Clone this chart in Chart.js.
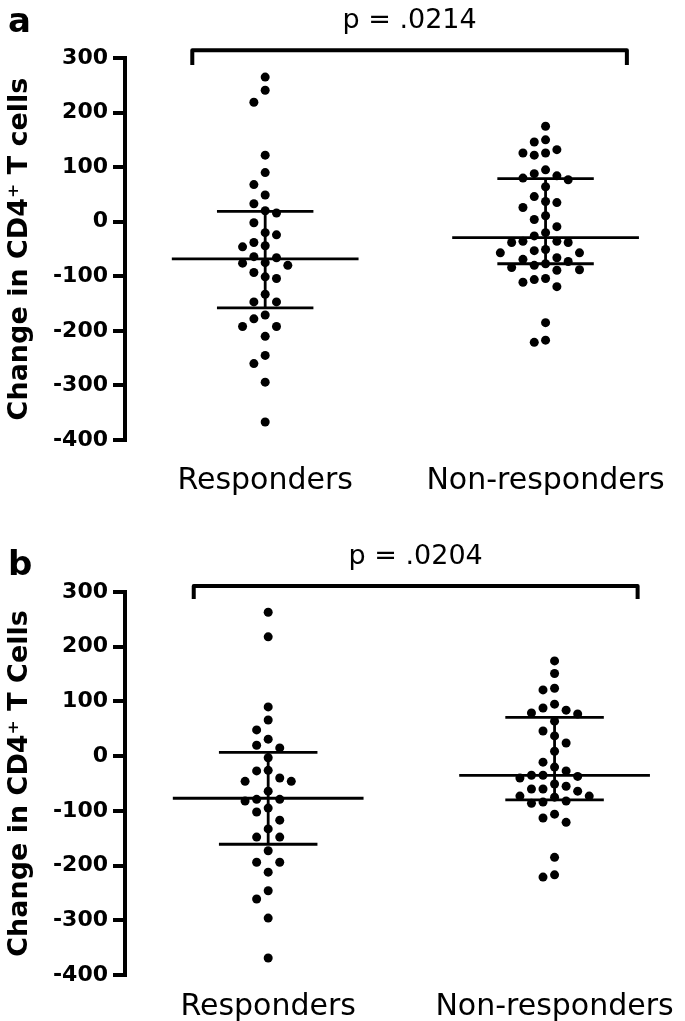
<!DOCTYPE html>
<html>
<head>
<meta charset="utf-8">
<script src="https://cdn.jsdelivr.net/npm/chart.js@4.4.1/dist/chart.umd.min.js"></script>
<style>
  body { margin: 0; background: #fff; }
  canvas { display: block; }
</style>
</head>
<body>
<canvas id="chartA" width="685" height="510"></canvas>
<canvas id="chartB" width="685" height="511"></canvas>
<script>
const groups = ["Responders", "Non-responders"]
const yTicks = [300, 200, 100, 0, -100, -200, -300, -400]

// panel a
const respondersA = [265, 241, 219, 122, 90, 68, 49, 33, 20, 16, -2, -20, -24, -38, -44, -46, -64, -66, -75, -80, -76, -93, -104, -101, -133, -147, -147, -171, -178, -192, -192, -210, -245, -260, -294, -367]
const nonRespondersA = [175, 150, 146, 132, 126, 126, 122, 95, 88, 84, 80, 77, 64, 46, 37, 35, 26, 11, 4, -9, -20, -26, -36, -36, -38, -38, -51, -53, -57, -57, -66, -69, -73, -77, -80, -84, -88, -89, -104, -106, -111, -119, -185, -217, -221]
const centerA = [-68, -29]
const upperA = [19, 79]
const lowerA = [-158, -77]

// panel b
const respondersB = [263, 218, 90, 66, 48, 31, 20, 15, -3, -26, -27, -40, -46, -46, -64, -79, -82, -79, -95, -102, -117, -133, -148, -148, -173, -194, -194, -212, -246, -261, -296, -369]
const nonRespondersB = [174, 151, 124, 121, 95, 88, 84, 79, 77, 64, 46, 37, 24, 9, -11, -20, -27, -35, -35, -37, -40, -51, -55, -60, -60, -64, -73, -73, -75, -82, -84, -86, -106, -113, -121, -185, -217, -221]
const centerB = [-77, -35]
const upperB = [7, 71]
const lowerB = [-161, -80]

Chart.defaults.font.family = "'DejaVu Sans', sans-serif"
Chart.defaults.color = "#000"

// layout of the dot columns
const PX_PER_UNIT = 382 / 700
const PX_PER_GROUP = 532 / 1.85
const DOT_GAP = 12.5 / PX_PER_UNIT
const COL_STEP = 11.6 / PX_PER_GROUP

// simple beeswarm: dots too close in value go to the next column (0, -1, +1, -2, +2 ...)
function swarm(values, groupIndex) {
  const order = values.map((v, i) => i).sort((a, b) => values[b] - values[a])
  const last = {}
  const pts = []
  order.forEach(i => {
    const v = values[i]
    for (let k = 0; k < 20; k++) {
      const c = k === 0 ? 0 : (k % 2 ? -Math.ceil(k / 2) : k / 2)
      if (last[c] === undefined || last[c] - v >= DOT_GAP) {
        last[c] = v
        pts.push({x: groupIndex + c * COL_STEP, y: v})
        break
      }
    }
  })
  return pts
}

function seg(x0, x1, y0, y1) {
  return {
    data: [{x: x0, y: y0}, {x: x1, y: y1}],
    showLine: true,
    borderColor: "#000",
    borderWidth: 2.8,
    pointRadius: 0,
    borderCapStyle: "butt"
  }
}

function statLines(center, upper, lower) {
  let out = []
  center.forEach((m, i) => {
    out.push(seg(i - 0.333, i + 0.333, m, m))
    out.push(seg(i - 0.172, i + 0.172, upper[i], upper[i]))
    out.push(seg(i - 0.172, i + 0.172, lower[i], lower[i]))
    out.push(seg(i, i, upper[i], lower[i]))
  })
  return out
}

const bracketPlugin = {
  id: "bracket",
  afterDraw(chart, args, o) {
    const ctx = chart.ctx
    const xs = chart.scales.x, ys = chart.scales.y
    const x0 = xs.getPixelForValue(o.from), x1 = xs.getPixelForValue(o.to)
    const top = ys.getPixelForValue(o.top), foot = ys.getPixelForValue(o.foot)
    ctx.save()
    ctx.strokeStyle = "#000"
    ctx.lineWidth = 4
    ctx.lineJoin = "round"
    ctx.beginPath()
    ctx.moveTo(x0, foot)
    ctx.lineTo(x0, top)
    ctx.lineTo(x1, top)
    ctx.lineTo(x1, foot)
    ctx.stroke()
    ctx.fillStyle = "#000"
    ctx.font = "27px 'DejaVu Sans'"
    ctx.textAlign = "center"
    ctx.textBaseline = "alphabetic"
    ctx.fillText(o.text, (x0 + x1) / 2, top - 22)
    ctx.font = "bold 34px 'DejaVu Sans'"
    ctx.textAlign = "left"
    ctx.fillText(o.letter, 8, o.letterY)
    ctx.restore()
  }
}

function makePanel(id, resp, nonResp, center, upper, lower, cfg) {
  return new Chart(document.getElementById(id), {
    type: "scatter",
    data: {
      datasets: [
        ...statLines(center, upper, lower),
        {
          data: swarm(resp, 0).concat(swarm(nonResp, 1)),
          pointRadius: 4.5,
          pointBackgroundColor: "#000",
          pointBorderWidth: 0,
          showLine: false
        }
      ]
    },
    options: {
      responsive: false,
      animation: false,
      devicePixelRatio: 1,
      layout: {padding: {top: cfg.top, right: 28, left: 0, bottom: 0}},
      plugins: {
        legend: {display: false},
        tooltip: {enabled: false},
        bracket: cfg.bracket
      },
      scales: {
        x: {
          type: "linear",
          min: -0.5,
          max: 1.35,
          afterBuildTicks: s => { s.ticks = groups.map((g, i) => ({value: i})) },
          afterFit: s => { s.height = cfg.xHeight },
          grid: {display: false},
          border: {display: false},
          ticks: {
            callback: v => groups[v],
            font: {size: 30},
            padding: cfg.labelPad,
            maxRotation: 0
          }
        },
        y: {
          min: -400,
          max: 300,
          afterBuildTicks: s => { s.ticks = yTicks.map(v => ({value: v})) },
          afterFit: s => { s.width = 125 },
          grid: {drawOnChartArea: false, drawTicks: true, tickLength: 12, lineWidth: 4, color: "#000"},
          border: {display: true, width: 4, color: "#000"},
          ticks: {font: {size: 22, weight: "bold"}, padding: 5},
          title: {
            display: true,
            text: cfg.title,
            font: {size: 27, weight: "bold", lineHeight: 1.2},
            padding: {top: 4, bottom: 0}
          }
        }
      }
    },
    plugins: [bracketPlugin]
  })
}

const chartA = makePanel("chartA", respondersA, nonRespondersA, centerA, upperA, lowerA, {
  top: 58, xHeight: 70, labelPad: 15,
  title: "Change in CD4\u207A T cells",
  bracket: {from: -0.26, to: 1.29, top: 314, foot: 287, text: "p = .0214", letter: "a", letterY: 32}
})

const chartB = makePanel("chartB", respondersB, nonRespondersB, centerB, upperB, lowerB, {
  top: 82, xHeight: 46, labelPad: 6,
  title: "Change in CD4\u207A T Cells",
  bracket: {from: -0.26, to: 1.29, top: 311, foot: 287, text: "p = .0204", letter: "b", letterY: 65}
})
</script>
</body>
</html>
